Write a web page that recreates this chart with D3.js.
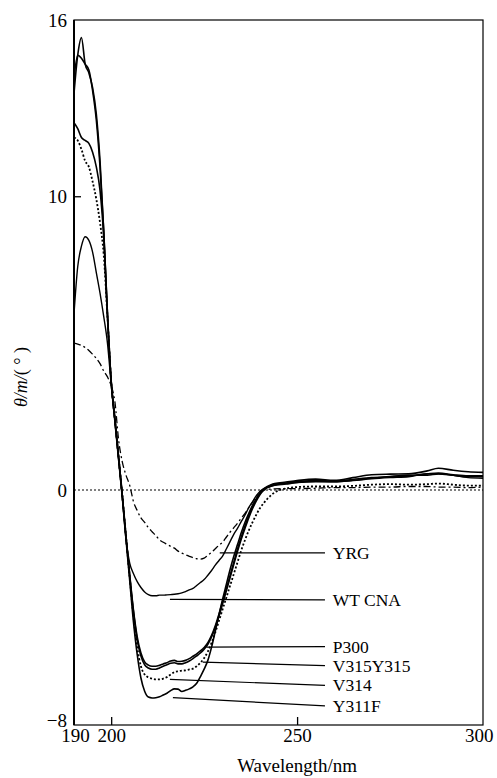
<!DOCTYPE html>
<html>
<head>
<meta charset="utf-8">
<script src="https://cdn.jsdelivr.net/npm/d3@7"></script>
<style>
  body { margin: 0; background: #fff; }
  svg { display: block; }
  svg text { font-family: 'Liberation Serif', 'DejaVu Serif', serif; fill: #000; }
</style>
</head>
<body>
<svg id="chart" width="497" height="778"></svg>
<script>
// wavelength grid (nm), shared by every series
const wavelength = [
  190,191,192,193,194,195,196,197,198,199,
  200,201,202,203,204,205,206,207,208,209,
  210,211,212,213,214,215,216,217,218,219,
  220,221,222,223,224,225,226,227,228,229,
  230,231,232,233,234,235,236,237,238,239,
  240,241,242,243,244,
  247,250,255,260,265,270,275,280,285,288,292,296,300
];

const yrg = [
  5.0,4.97,4.92,4.85,4.75,4.62,4.48,4.3,4.05,3.85,
  3.55,3.0,1.7,0.95,0.5,0.15,-0.4,-0.7,-0.95,-1.1,
  -1.28,-1.42,-1.55,-1.7,-1.78,-1.85,-1.92,-1.98,-2.08,-2.15,
  -2.2,-2.26,-2.3,-2.34,-2.35,-2.32,-2.22,-2.12,-2.0,-1.88,
  -1.77,-1.6,-1.43,-1.28,-1.13,-0.95,-0.8,-0.6,-0.42,-0.22,
  -0.06,0.0,0.02,0.03,0.04,
  0.05,0.05,0.06,0.08,0.08,0.1,0.1,0.12,0.12,0.1,0.1,0.08,0.1
];

const wtCna = [
  6.0,7.6,8.3,8.62,8.5,8.1,7.4,6.7,5.9,5.0,
  3.6,2.3,1.0,-0.3,-1.7,-2.5,-2.85,-3.12,-3.32,-3.47,
  -3.56,-3.6,-3.6,-3.58,-3.58,-3.57,-3.56,-3.55,-3.53,-3.5,
  -3.46,-3.4,-3.35,-3.25,-3.15,-3.05,-2.9,-2.74,-2.56,-2.4,
  -2.24,-2.0,-1.75,-1.5,-1.3,-1.07,-0.85,-0.6,-0.4,-0.2,
  -0.05,0.05,0.1,0.13,0.16,
  0.2,0.25,0.28,0.28,0.32,0.38,0.42,0.45,0.55,0.55,0.5,0.42,0.4
];

const p300 = [
  14.0,14.8,14.7,14.5,14.3,13.6,12.6,11.0,8.8,6.0,
  3.7,2.4,1.1,-0.2,-1.6,-2.9,-4.1,-5.0,-5.55,-5.85,
  -5.96,-6.0,-6.0,-5.97,-5.92,-5.88,-5.82,-5.8,-5.84,-5.83,
  -5.8,-5.74,-5.66,-5.58,-5.48,-5.36,-5.2,-4.95,-4.62,-4.22,
  -3.78,-3.35,-2.9,-2.45,-2.0,-1.6,-1.22,-0.88,-0.58,-0.33,
  -0.12,0.02,0.12,0.18,0.22,
  0.27,0.32,0.37,0.33,0.42,0.52,0.54,0.55,0.65,0.74,0.67,0.62,0.6
];

const v315y315 = [
  12.5,12.3,12.0,11.9,11.8,11.5,11.0,10.2,8.6,5.9,
  3.7,2.4,1.1,-0.2,-1.6,-2.95,-4.15,-5.1,-5.65,-5.95,
  -6.06,-6.1,-6.1,-6.06,-6.0,-5.95,-5.9,-5.88,-5.92,-5.92,
  -5.88,-5.82,-5.74,-5.65,-5.55,-5.42,-5.25,-5.0,-4.68,-4.3,
  -3.86,-3.42,-2.97,-2.52,-2.08,-1.67,-1.3,-0.95,-0.64,-0.38,
  -0.16,-0.01,0.09,0.15,0.19,
  0.24,0.28,0.32,0.3,0.36,0.42,0.45,0.48,0.55,0.58,0.52,0.48,0.48
];

const v314 = [
  12.0,11.9,11.6,11.2,11.0,10.5,9.9,9.1,8.0,5.9,
  3.7,2.4,1.1,-0.2,-1.6,-3.0,-4.3,-5.35,-6.0,-6.28,
  -6.38,-6.42,-6.45,-6.45,-6.42,-6.37,-6.28,-6.2,-6.17,-6.15,
  -6.14,-6.11,-6.08,-6.0,-5.88,-5.72,-5.5,-5.2,-4.85,-4.45,
  -4.05,-3.65,-3.25,-2.85,-2.45,-2.05,-1.7,-1.38,-1.1,-0.85,
  -0.62,-0.45,-0.3,-0.18,-0.08,
  0.05,0.1,0.12,0.12,0.14,0.18,0.2,0.18,0.2,0.22,0.18,0.15,0.15
];

const y311f = [
  13.5,14.8,15.4,14.5,14.2,13.7,12.8,11.2,8.8,6.0,
  3.7,2.4,1.1,-0.2,-1.7,-3.1,-4.5,-5.6,-6.4,-6.85,
  -7.05,-7.08,-7.07,-7.04,-6.98,-6.92,-6.83,-6.77,-6.78,-6.86,
  -6.82,-6.77,-6.7,-6.58,-6.35,-6.1,-5.8,-5.35,-4.8,-4.25,
  -3.7,-3.2,-2.7,-2.25,-1.85,-1.45,-1.1,-0.8,-0.52,-0.3,
  -0.12,0.0,0.08,0.13,0.17,
  0.22,0.26,0.3,0.28,0.33,0.4,0.46,0.5,0.5,0.55,0.5,0.45,0.45
];

const seriesNames = ['YRG', 'WT CNA', 'P300', 'V315Y315', 'V314', 'Y311F'];

// leader lines: where they touch the curve [nm, value] and the value at the label end
const leaderStart = [[229.2,-2.14],[215.8,-3.72],[225.6,-5.35],[224.6,-5.86],[215.8,-6.45],[216.6,-7.07]];
const leaderEnd = [-2.14,-3.74,-5.33,-5.98,-6.65,-7.35];

const xTicks = [190, 200, 250, 300];
const yTicks = [16, 10, 0, -8];

const FONT = "'Liberation Serif', 'DejaVu Serif', serif";

const svg = d3.select('#chart');
const x = d3.scaleLinear().domain([190, 300]).range([74, 483]);
const y = d3.scaleLinear().domain([-8, 16]).range([725, 20]);

const styles = {
  'YRG':      {values: yrg,      dash: '7,3,2,3', width: 1.3},
  'WT CNA':   {values: wtCna,    dash: null,      width: 1.4},
  'P300':     {values: p300,     dash: null,      width: 1.6},
  'V315Y315': {values: v315y315, dash: null,      width: 1.6},
  'V314':     {values: v314,     dash: '2,2',     width: 1.8},
  'Y311F':    {values: y311f,    dash: null,      width: 1.6}
};

// zero reference
svg.append('line')
  .attr('x1', x(190)).attr('x2', x(300))
  .attr('y1', y(0)).attr('y2', y(0))
  .attr('stroke', '#000')
  .attr('stroke-width', 1.2)
  .attr('stroke-dasharray', '2,2');

const line = d3.line()
  .x((d, i) => x(wavelength[i]))
  .y(d => y(d))
  .curve(d3.curveMonotoneX);

seriesNames.forEach(name => {
  const s = styles[name];
  svg.append('path')
    .datum(s.values)
    .attr('d', line)
    .attr('fill', 'none')
    .attr('stroke', '#000')
    .attr('stroke-width', s.width)
    .attr('stroke-linejoin', 'round')
    .attr('stroke-dasharray', s.dash);
});

// frame
svg.append('rect')
  .attr('x', x(190)).attr('y', y(16))
  .attr('width', x(300) - x(190)).attr('height', y(-8) - y(16))
  .attr('fill', 'none')
  .attr('stroke', '#000')
  .attr('stroke-width', 1.2);
svg.append('line')
  .attr('x1', x(190)).attr('x2', x(190))
  .attr('y1', y(16)).attr('y2', y(-8))
  .attr('stroke', '#000').attr('stroke-width', 2);

// axes, ticks pointing inward
const yAxis = svg.append('g')
  .attr('transform', `translate(${x(190)},0)`)
  .call(d3.axisLeft(y).tickValues(yTicks).tickSize(-7).tickPadding(7)
    .tickFormat(d => d < 0 ? '\u2212' + Math.abs(d) : d));
const xAxis = svg.append('g')
  .attr('transform', `translate(0,${y(-8)})`)
  .call(d3.axisBottom(x).tickValues(xTicks).tickSize(-8).tickPadding(4));

[yAxis, xAxis].forEach(g => {
  g.attr('font-family', FONT).attr('font-size', 19);
  g.select('.domain').remove();
  g.selectAll('line').attr('stroke', '#000').attr('stroke-width', 1.3);
});
// corner ticks sit on the frame
yAxis.selectAll('.tick').filter(d => d === 16 || d === -8 || d === 0).select('line').remove();
yAxis.selectAll('.tick').filter(d => d === -8).select('text').attr('dy', '0.1em');
xAxis.selectAll('.tick').filter(d => d === 190 || d === 300).select('line').remove();
xAxis.selectAll('.tick').filter(d => d === 300).select('text')
  .attr('text-anchor', 'end').attr('x', 10);
xAxis.selectAll('.tick').filter(d => d === 190).select('text').attr('x', 1);

// leader lines and labels
seriesNames.forEach((name, i) => {
  const [wl, v] = leaderStart[i];
  svg.append('line')
    .attr('x1', x(wl)).attr('y1', y(v))
    .attr('x2', x(257.5)).attr('y2', y(leaderEnd[i]))
    .attr('stroke', '#000').attr('stroke-width', 1.2);
  svg.append('text')
    .attr('x', x(259.6)).attr('y', y(leaderEnd[i]))
    .attr('dy', '0.34em')
    .attr('font-family', FONT)
    .attr('font-size', 17.5)
    .text(name);
});

// axis titles
svg.append('text')
  .attr('x', x(250)).attr('y', 772)
  .attr('text-anchor', 'middle')
  .attr('font-family', FONT)
  .attr('font-size', 19)
  .text('Wavelength/nm');

const yTitle = svg.append('text')
  .attr('transform', 'translate(27,377) rotate(-90)')
  .attr('text-anchor', 'middle')
  .attr('font-family', FONT)
  .attr('font-size', 18);
yTitle.append('tspan').attr('font-style', 'italic').text('\u03b8/m/');
yTitle.append('tspan').text('( \u00b0 )');
</script>
</body>
</html>
